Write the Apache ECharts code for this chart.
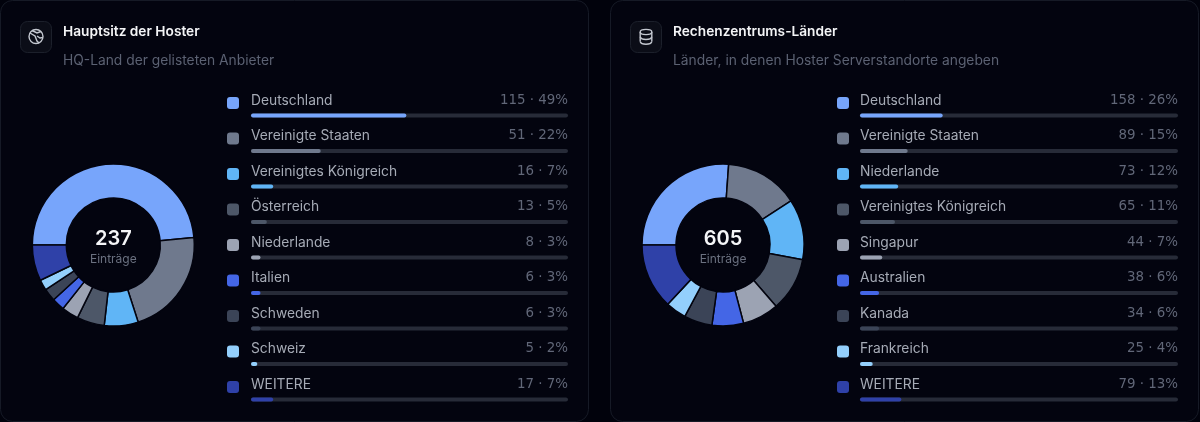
<!DOCTYPE html>
<html><head><meta charset="utf-8">
<style>html,body{margin:0;padding:0;background:#01020c;overflow:hidden}#c{width:1200px;height:422px}</style>
<script src="https://cdn.jsdelivr.net/npm/echarts@6/dist/echarts.min.js"></script>
</head><body><div id="c"></div>
<script>
const leftTitle = 'Hauptsitz der Hoster';
const leftSubtitle = 'HQ-Land der gelisteten Anbieter';
const leftNames = ['Deutschland','Vereinigte Staaten','Vereinigtes Königreich','Österreich','Niederlande','Italien','Schweden','Schweiz','WEITERE'];
const leftValues = [115,51,16,13,8,6,6,5,17];
const leftPercents = [49,22,7,5,3,3,3,2,7];
const leftColors = ['#77a5fb','#6f798d','#60b5f6','#4d5768','#9ca3b3','#4466e6','#3b4457','#93cffc','#2f41a8'];
const leftTotal = '237';

const rightTitle = 'Rechenzentrums-Länder';
const rightSubtitle = 'Länder, in denen Hoster Serverstandorte angeben';
const rightNames = ['Deutschland','Vereinigte Staaten','Niederlande','Vereinigtes Königreich','Singapur','Australien','Kanada','Frankreich','WEITERE'];
const rightValues = [158,89,73,65,44,38,34,25,79];
const rightPercents = [26,15,12,11,7,6,6,4,13];
const rightColors = ['#77a5fb','#6f798d','#60b5f6','#4d5768','#9ca3b3','#4466e6','#3b4457','#93cffc','#2f41a8'];
const rightTotal = '605';
const centerLabel = 'Einträge';

const FONT = 'Inter, "Noto Sans", sans-serif';
const panels = [
 {title:leftTitle,sub:leftSubtitle,names:leftNames,values:leftValues,pct:leftPercents,colors:leftColors,total:leftTotal,x:0,w:589,cx:113.3,gx:251,gw:317,lx:227},
 {title:rightTitle,sub:rightSubtitle,names:rightNames,values:rightValues,pct:rightPercents,colors:rightColors,total:rightTotal,x:610,w:589,cx:723,gx:860,gw:318,lx:837}
];
const titles=[],legends=[],grids=[],xAxes=[],yAxes=[],series=[],graphics=[];
const iconStyle={fill:'none',stroke:'#c4c8d0',lineWidth:1.4};
panels.forEach((p,i)=>{
  const ix=p.x+20;
  graphics.push({type:'rect',shape:{x:p.x+.5,y:.5,width:p.w-1,height:421,r:12},style:{fill:'#03040f',stroke:'#161a26',lineWidth:1},z:-10});
  graphics.push({type:'rect',shape:{x:ix+.5,y:21.5,width:31,height:31,r:7},style:{fill:'#0b0d17',stroke:'#1c202b',lineWidth:1},z:-9});
  if(i===0){
    graphics.push({type:'circle',shape:{cx:ix+16,cy:36.5,r:7},style:iconStyle,z:-8});
    graphics.push({type:'polyline',shape:{points:[[ix+10,33],[ix+15,36],[ix+17,41],[ix+19,43]]},style:iconStyle,z:-8});
    graphics.push({type:'polyline',shape:{points:[[ix+12,30.5],[ix+17,33],[ix+21,31.5]]},style:iconStyle,z:-8});
    graphics.push({type:'polyline',shape:{points:[[ix+17,36],[ix+20,38],[ix+23,37.5]]},style:iconStyle,z:-8});
  } else {
    const l=ix+10.2,r=ix+21.8,m=ix+16;
    graphics.push({type:'ellipse',shape:{cx:m,cy:32,rx:5.8,ry:2.6},style:iconStyle,z:-8});
    graphics.push({type:'line',shape:{x1:l,y1:32,x2:l,y2:41.5},style:iconStyle,z:-8});
    graphics.push({type:'line',shape:{x1:r,y1:32,x2:r,y2:41.5},style:iconStyle,z:-8});
    [36.8,41.5].forEach(y=>graphics.push({type:'bezierCurve',shape:{x1:l,y1:y,x2:r,y2:y,cpx1:l+1,cpy1:y+3.6,cpx2:r-1,cpy2:y+3.6},style:iconStyle,z:-8}));
  }
  titles.push({text:p.title,left:ix+43,top:25,padding:0,textStyle:{color:'#f3f4f6',fontFamily:FONT,fontSize:13.7,fontWeight:600}});
  titles.push({text:p.sub,left:ix+43,top:54,padding:0,textStyle:{color:'#5b6172',fontFamily:FONT,fontSize:13.8,fontWeight:400}});
  titles.push({text:p.total,left:p.cx,top:229,padding:0,textAlign:'center',textStyle:{color:'#f5f6f8',fontFamily:FONT,fontSize:20,fontWeight:600}});
  titles.push({text:centerLabel,left:p.cx,top:253,padding:0,textAlign:'center',textStyle:{color:'#6b7180',fontFamily:FONT,fontSize:12,fontWeight:400}});
  legends.push({orient:'vertical',left:p.lx,top:97,padding:0,itemWidth:12,itemHeight:12,itemGap:23.5,selectedMode:false,icon:'roundRect',itemStyle:{borderWidth:0},
    formatter:()=>' ',textStyle:{fontSize:10,lineHeight:12},
    data:p.names.map((n,k)=>({name:n,itemStyle:{color:p.colors[k]}}))});
  grids.push({left:p.gx,width:p.gw,top:97.75,height:319.5});
  xAxes.push({gridIndex:i,type:'value',min:0,max:100,show:false});
  yAxes.push({gridIndex:i,type:'category',inverse:true,data:p.names,show:false});
  series.push({type:'pie',name:p.title,center:[p.cx,245],radius:[47,81],startAngle:180,label:{show:false},labelLine:{show:false},silent:true,
    itemStyle:{borderColor:'#03040f',borderWidth:1.5},
    data:p.names.map((n,k)=>({name:n,value:p.values[k],itemStyle:{color:p.colors[k]}}))});
  series.push({type:'bar',xAxisIndex:i,yAxisIndex:i,barWidth:4,silent:true,z:2,data:p.pct.map((v,k)=>({value:v,name:p.names[k],itemStyle:{color:p.colors[k],borderRadius:2}})),
    showBackground:true,backgroundStyle:{color:'#272b38',borderRadius:2},
    label:{show:true,position:'insideLeft',offset:[0,-15],distance:0,color:'#a6abb6',fontFamily:FONT,fontSize:13.8,formatter:'{b}'}});
  series.push({type:'bar',xAxisIndex:i,yAxisIndex:i,barWidth:4,barGap:'-100%',silent:true,z:1,itemStyle:{color:'transparent'},
    data:p.pct.map(()=>100),
    label:{show:true,position:'insideRight',offset:[0,-15],distance:0,color:'#616778',fontFamily:'"DejaVu Sans", sans-serif',fontSize:13.4,
      formatter:q=>p.values[q.dataIndex]+' · '+p.pct[q.dataIndex]+'%'}});
});
const chart=echarts.init(document.getElementById('c'),null,{renderer:'canvas'});
chart.setOption({animation:false,backgroundColor:'#01020c',title:titles,legend:legends,grid:grids,xAxis:xAxes,yAxis:yAxes,series,graphic:graphics});
</script></body></html>
